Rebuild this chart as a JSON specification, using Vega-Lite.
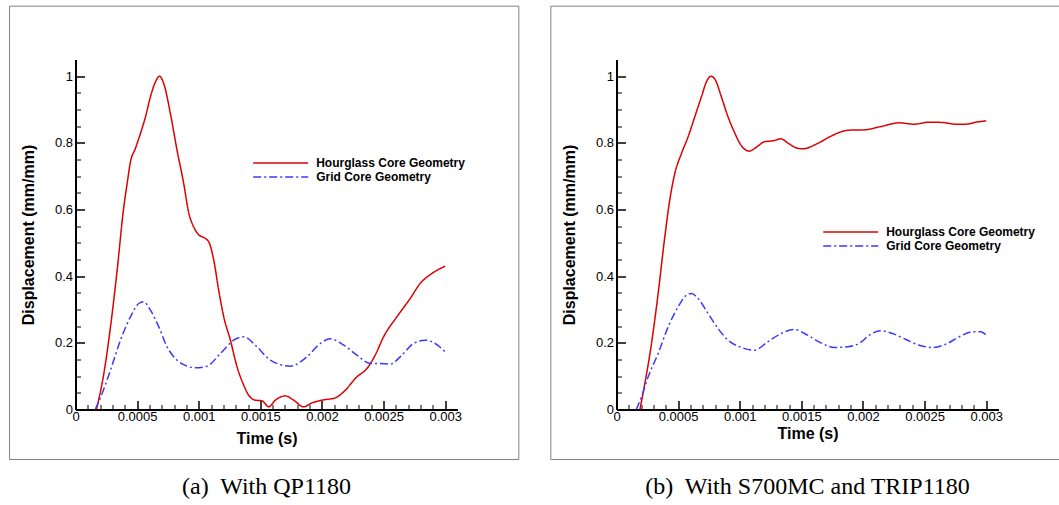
{
  "$schema": "https://vega.github.io/schema/vega-lite/v6.json",
  "padding": {"left": 8.5, "top": 5.5, "right": 0, "bottom": 0},
  "background": "white",
  "spacing": 30,
  "config": {
    "view": {"stroke": null},
    "axis": {"domainColor": "black", "domainWidth": 2, "tickColor": "black", "grid": false,
      "labelFont": "Liberation Sans", "labelFontSize": 13, "labelColor": "black",
      "labelFlush": false, "labelOverlap": false, "labelBound": false,
      "titleFont": "Liberation Sans", "titleFontSize": 16, "titleFontWeight": "bold", "titleColor": "black"},
    "legend": {"labelFont": "Liberation Sans", "labelFontSize": 12, "labelFontWeight": "bold", "labelColor": "black",
      "symbolType": "M-5,0H5", "symbolSize": 121, "symbolStrokeWidth": 1.5, "labelOffset": 29, "rowPadding": 1, "padding": 0},
    "title": {"font": "Liberation Serif", "fontSize": 24, "fontWeight": "normal", "color": "black", "orient": "bottom", "frame": "group", "anchor": "middle"}
  },
  "datasets": {
    "left": [
      {"s": "Hourglass Core Geometry", "t": 0.00017, "v": 0},
      {"s": "Hourglass Core Geometry", "t": 0.00023, "v": 0.108},
      {"s": "Hourglass Core Geometry", "t": 0.000284, "v": 0.248},
      {"s": "Hourglass Core Geometry", "t": 0.000338, "v": 0.418},
      {"s": "Hourglass Core Geometry", "t": 0.000392, "v": 0.608},
      {"s": "Hourglass Core Geometry", "t": 0.000419, "v": 0.678},
      {"s": "Hourglass Core Geometry", "t": 0.000446, "v": 0.743},
      {"s": "Hourglass Core Geometry", "t": 0.000486, "v": 0.783},
      {"s": "Hourglass Core Geometry", "t": 0.000527, "v": 0.828},
      {"s": "Hourglass Core Geometry", "t": 0.000568, "v": 0.878},
      {"s": "Hourglass Core Geometry", "t": 0.000608, "v": 0.938},
      {"s": "Hourglass Core Geometry", "t": 0.000649, "v": 0.983},
      {"s": "Hourglass Core Geometry", "t": 0.000681, "v": 1.0},
      {"s": "Hourglass Core Geometry", "t": 0.000716, "v": 0.978},
      {"s": "Hourglass Core Geometry", "t": 0.00077, "v": 0.888},
      {"s": "Hourglass Core Geometry", "t": 0.000824, "v": 0.778},
      {"s": "Hourglass Core Geometry", "t": 0.000878, "v": 0.678},
      {"s": "Hourglass Core Geometry", "t": 0.000919, "v": 0.59},
      {"s": "Hourglass Core Geometry", "t": 0.000959, "v": 0.548},
      {"s": "Hourglass Core Geometry", "t": 0.001, "v": 0.524},
      {"s": "Hourglass Core Geometry", "t": 0.00104, "v": 0.516},
      {"s": "Hourglass Core Geometry", "t": 0.001081, "v": 0.503},
      {"s": "Hourglass Core Geometry", "t": 0.001122, "v": 0.448},
      {"s": "Hourglass Core Geometry", "t": 0.001162, "v": 0.358},
      {"s": "Hourglass Core Geometry", "t": 0.001203, "v": 0.278},
      {"s": "Hourglass Core Geometry", "t": 0.001257, "v": 0.208},
      {"s": "Hourglass Core Geometry", "t": 0.001311, "v": 0.128},
      {"s": "Hourglass Core Geometry", "t": 0.001365, "v": 0.073},
      {"s": "Hourglass Core Geometry", "t": 0.001405, "v": 0.043},
      {"s": "Hourglass Core Geometry", "t": 0.00146, "v": 0.028},
      {"s": "Hourglass Core Geometry", "t": 0.001514, "v": 0.026},
      {"s": "Hourglass Core Geometry", "t": 0.001568, "v": 0.008},
      {"s": "Hourglass Core Geometry", "t": 0.001622, "v": 0.028},
      {"s": "Hourglass Core Geometry", "t": 0.001703, "v": 0.041},
      {"s": "Hourglass Core Geometry", "t": 0.00177, "v": 0.028},
      {"s": "Hourglass Core Geometry", "t": 0.001851, "v": 0.008},
      {"s": "Hourglass Core Geometry", "t": 0.001919, "v": 0.02},
      {"s": "Hourglass Core Geometry", "t": 0.002, "v": 0.028},
      {"s": "Hourglass Core Geometry", "t": 0.002108, "v": 0.035},
      {"s": "Hourglass Core Geometry", "t": 0.002176, "v": 0.053},
      {"s": "Hourglass Core Geometry", "t": 0.002284, "v": 0.098},
      {"s": "Hourglass Core Geometry", "t": 0.002365, "v": 0.123},
      {"s": "Hourglass Core Geometry", "t": 0.002432, "v": 0.163},
      {"s": "Hourglass Core Geometry", "t": 0.0025, "v": 0.218},
      {"s": "Hourglass Core Geometry", "t": 0.002608, "v": 0.278},
      {"s": "Hourglass Core Geometry", "t": 0.002716, "v": 0.333},
      {"s": "Hourglass Core Geometry", "t": 0.002797, "v": 0.378},
      {"s": "Hourglass Core Geometry", "t": 0.002892, "v": 0.408},
      {"s": "Hourglass Core Geometry", "t": 0.003, "v": 0.43},
      {"s": "Grid Core Geometry", "t": 0.00016, "v": 0},
      {"s": "Grid Core Geometry", "t": 0.000216, "v": 0.048},
      {"s": "Grid Core Geometry", "t": 0.000284, "v": 0.118},
      {"s": "Grid Core Geometry", "t": 0.000365, "v": 0.208},
      {"s": "Grid Core Geometry", "t": 0.000446, "v": 0.278},
      {"s": "Grid Core Geometry", "t": 0.000514, "v": 0.318},
      {"s": "Grid Core Geometry", "t": 0.000554, "v": 0.323},
      {"s": "Grid Core Geometry", "t": 0.000608, "v": 0.298},
      {"s": "Grid Core Geometry", "t": 0.000676, "v": 0.248},
      {"s": "Grid Core Geometry", "t": 0.000743, "v": 0.188},
      {"s": "Grid Core Geometry", "t": 0.000824, "v": 0.148},
      {"s": "Grid Core Geometry", "t": 0.000905, "v": 0.13},
      {"s": "Grid Core Geometry", "t": 0.000973, "v": 0.125},
      {"s": "Grid Core Geometry", "t": 0.001068, "v": 0.13},
      {"s": "Grid Core Geometry", "t": 0.001176, "v": 0.168},
      {"s": "Grid Core Geometry", "t": 0.001284, "v": 0.208},
      {"s": "Grid Core Geometry", "t": 0.001365, "v": 0.218},
      {"s": "Grid Core Geometry", "t": 0.001473, "v": 0.188},
      {"s": "Grid Core Geometry", "t": 0.001581, "v": 0.148},
      {"s": "Grid Core Geometry", "t": 0.001743, "v": 0.13},
      {"s": "Grid Core Geometry", "t": 0.001878, "v": 0.158},
      {"s": "Grid Core Geometry", "t": 0.001986, "v": 0.198},
      {"s": "Grid Core Geometry", "t": 0.002068, "v": 0.212},
      {"s": "Grid Core Geometry", "t": 0.002176, "v": 0.193},
      {"s": "Grid Core Geometry", "t": 0.002284, "v": 0.163},
      {"s": "Grid Core Geometry", "t": 0.002392, "v": 0.138},
      {"s": "Grid Core Geometry", "t": 0.002473, "v": 0.138},
      {"s": "Grid Core Geometry", "t": 0.002554, "v": 0.136},
      {"s": "Grid Core Geometry", "t": 0.002635, "v": 0.158},
      {"s": "Grid Core Geometry", "t": 0.002743, "v": 0.198},
      {"s": "Grid Core Geometry", "t": 0.002838, "v": 0.208},
      {"s": "Grid Core Geometry", "t": 0.002919, "v": 0.198},
      {"s": "Grid Core Geometry", "t": 0.003, "v": 0.173}
    ],
    "right": [
      {"s": "Hourglass Core Geometry", "t": 0.00019, "v": 0},
      {"s": "Hourglass Core Geometry", "t": 0.00023, "v": 0.078},
      {"s": "Hourglass Core Geometry", "t": 0.000284, "v": 0.198},
      {"s": "Hourglass Core Geometry", "t": 0.000338, "v": 0.348},
      {"s": "Hourglass Core Geometry", "t": 0.000392, "v": 0.518},
      {"s": "Hourglass Core Geometry", "t": 0.000432, "v": 0.628},
      {"s": "Hourglass Core Geometry", "t": 0.000473, "v": 0.708},
      {"s": "Hourglass Core Geometry", "t": 0.000527, "v": 0.768},
      {"s": "Hourglass Core Geometry", "t": 0.000581, "v": 0.818},
      {"s": "Hourglass Core Geometry", "t": 0.000635, "v": 0.878},
      {"s": "Hourglass Core Geometry", "t": 0.000689, "v": 0.938},
      {"s": "Hourglass Core Geometry", "t": 0.00073, "v": 0.983},
      {"s": "Hourglass Core Geometry", "t": 0.000765, "v": 1.0},
      {"s": "Hourglass Core Geometry", "t": 0.000803, "v": 0.988},
      {"s": "Hourglass Core Geometry", "t": 0.000851, "v": 0.938},
      {"s": "Hourglass Core Geometry", "t": 0.000905, "v": 0.878},
      {"s": "Hourglass Core Geometry", "t": 0.000959, "v": 0.83},
      {"s": "Hourglass Core Geometry", "t": 0.00101, "v": 0.793},
      {"s": "Hourglass Core Geometry", "t": 0.001078, "v": 0.775},
      {"s": "Hourglass Core Geometry", "t": 0.001132, "v": 0.786},
      {"s": "Hourglass Core Geometry", "t": 0.0012, "v": 0.803},
      {"s": "Hourglass Core Geometry", "t": 0.001267, "v": 0.806},
      {"s": "Hourglass Core Geometry", "t": 0.001335, "v": 0.812},
      {"s": "Hourglass Core Geometry", "t": 0.001389, "v": 0.8},
      {"s": "Hourglass Core Geometry", "t": 0.001457, "v": 0.785},
      {"s": "Hourglass Core Geometry", "t": 0.001511, "v": 0.782},
      {"s": "Hourglass Core Geometry", "t": 0.001632, "v": 0.798},
      {"s": "Hourglass Core Geometry", "t": 0.001741, "v": 0.82},
      {"s": "Hourglass Core Geometry", "t": 0.001822, "v": 0.833},
      {"s": "Hourglass Core Geometry", "t": 0.001889, "v": 0.838},
      {"s": "Hourglass Core Geometry", "t": 0.00201, "v": 0.839},
      {"s": "Hourglass Core Geometry", "t": 0.002159, "v": 0.85},
      {"s": "Hourglass Core Geometry", "t": 0.002295, "v": 0.86},
      {"s": "Hourglass Core Geometry", "t": 0.002416, "v": 0.856},
      {"s": "Hourglass Core Geometry", "t": 0.002538, "v": 0.862},
      {"s": "Hourglass Core Geometry", "t": 0.002646, "v": 0.861},
      {"s": "Hourglass Core Geometry", "t": 0.002754, "v": 0.856},
      {"s": "Hourglass Core Geometry", "t": 0.002835, "v": 0.856},
      {"s": "Hourglass Core Geometry", "t": 0.002916, "v": 0.862},
      {"s": "Hourglass Core Geometry", "t": 0.003, "v": 0.866},
      {"s": "Grid Core Geometry", "t": 0.00016, "v": 0},
      {"s": "Grid Core Geometry", "t": 0.000203, "v": 0.038},
      {"s": "Grid Core Geometry", "t": 0.000257, "v": 0.098},
      {"s": "Grid Core Geometry", "t": 0.000338, "v": 0.168},
      {"s": "Grid Core Geometry", "t": 0.000419, "v": 0.248},
      {"s": "Grid Core Geometry", "t": 0.0005, "v": 0.308},
      {"s": "Grid Core Geometry", "t": 0.000568, "v": 0.343},
      {"s": "Grid Core Geometry", "t": 0.000608, "v": 0.348},
      {"s": "Grid Core Geometry", "t": 0.000662, "v": 0.333},
      {"s": "Grid Core Geometry", "t": 0.000743, "v": 0.288},
      {"s": "Grid Core Geometry", "t": 0.000824, "v": 0.243},
      {"s": "Grid Core Geometry", "t": 0.000905, "v": 0.208},
      {"s": "Grid Core Geometry", "t": 0.001008, "v": 0.187},
      {"s": "Grid Core Geometry", "t": 0.001119, "v": 0.178},
      {"s": "Grid Core Geometry", "t": 0.001227, "v": 0.203},
      {"s": "Grid Core Geometry", "t": 0.001335, "v": 0.228},
      {"s": "Grid Core Geometry", "t": 0.001443, "v": 0.24},
      {"s": "Grid Core Geometry", "t": 0.001551, "v": 0.223},
      {"s": "Grid Core Geometry", "t": 0.001659, "v": 0.2},
      {"s": "Grid Core Geometry", "t": 0.001768, "v": 0.186},
      {"s": "Grid Core Geometry", "t": 0.001876, "v": 0.188},
      {"s": "Grid Core Geometry", "t": 0.001984, "v": 0.202},
      {"s": "Grid Core Geometry", "t": 0.002051, "v": 0.223},
      {"s": "Grid Core Geometry", "t": 0.002146, "v": 0.236},
      {"s": "Grid Core Geometry", "t": 0.00224, "v": 0.228},
      {"s": "Grid Core Geometry", "t": 0.002349, "v": 0.21},
      {"s": "Grid Core Geometry", "t": 0.002457, "v": 0.193},
      {"s": "Grid Core Geometry", "t": 0.002565, "v": 0.186},
      {"s": "Grid Core Geometry", "t": 0.002673, "v": 0.196},
      {"s": "Grid Core Geometry", "t": 0.002781, "v": 0.218},
      {"s": "Grid Core Geometry", "t": 0.002889, "v": 0.233},
      {"s": "Grid Core Geometry", "t": 0.002957, "v": 0.233},
      {"s": "Grid Core Geometry", "t": 0.003, "v": 0.223}
    ]
  },
  "resolve": {"legend": {"color": "independent", "strokeDash": "independent"}},
  "hconcat": [
    {
      "width": 382, "height": 350,
      "title": {"text": "(a)\u00a0 With QP1180", "offset": 15},
      "layer": [
        {
          "data": {"name": "left"},
          "mark": {"type": "line", "strokeWidth": 1.5, "interpolate": "monotone"},
          "encoding": {
            "x": {"field": "t", "type": "quantitative", "scale": {"domain": [0, 0.0031], "nice": false, "zero": false},
              "axis": {"title": "Time (s)", "titlePadding": 3, "labelPadding": 10,
                "values": [0,0.0001,0.0002,0.0003,0.0004,0.0005,0.0006,0.0007,0.0008,0.0009,0.001,0.0011,0.0012,0.0013,0.0014,0.0015,0.0016,0.0017,0.0018,0.0019,0.002,0.0021,0.0022,0.0023,0.0024,0.0025,0.0026,0.0027,0.0028,0.0029,0.003],
                "tickSize": {"condition": {"test": "abs(datum.value*2000-round(datum.value*2000))<0.01", "value": -9}, "value": -5},
                "tickWidth": {"condition": {"test": "abs(datum.value*2000-round(datum.value*2000))<0.01", "value": 1.5}, "value": 1},
                "labelExpr": "abs(datum.value*2000-round(datum.value*2000))<0.01 ? ''+datum.value : ''"}},
            "y": {"field": "v", "type": "quantitative", "scale": {"domain": [0, 1.05], "nice": false, "zero": false},
              "axis": {"title": "Displacement (mm/mm)", "titlePadding": 18, "labelPadding": 12,
                "values": [0,0.05,0.1,0.15,0.2,0.25,0.3,0.35,0.4,0.45,0.5,0.55,0.6,0.65,0.7,0.75,0.8,0.85,0.9,0.95,1],
                "tickSize": {"condition": {"test": "abs(datum.value*5-round(datum.value*5))<0.01", "value": -9}, "value": -5},
                "tickWidth": {"condition": {"test": "abs(datum.value*5-round(datum.value*5))<0.01", "value": 1.5}, "value": 1},
                "labelExpr": "abs(datum.value*5-round(datum.value*5))<0.01 ? ''+datum.value : ''"}},
            "color": {"field": "s", "type": "nominal",
              "scale": {"domain": ["Hourglass Core Geometry", "Grid Core Geometry"], "range": ["#dc0000", "#3a3aff"]},
              "legend": {"title": null, "orient": "none", "legendX": 198.7, "legendY": 97}},
            "strokeDash": {"field": "s", "type": "nominal",
              "scale": {"domain": ["Hourglass Core Geometry", "Grid Core Geometry"], "range": [[1, 0], [8, 3, 2, 3]]},
              "legend": {"title": null, "orient": "none", "legendX": 198.7, "legendY": 97}}
          }
        },
        {
          "data": {"values": [{}]},
          "mark": {"type": "rect", "filled": false, "stroke": "#808080", "strokeWidth": 1},
          "encoding": {
            "x": {"datum": -0.000535, "type": "quantitative", "scale": {"domain": [0, 0.0031], "nice": false, "zero": false},
              "axis": {"title": "Time (s)", "titlePadding": 3, "labelPadding": 10,
                "values": [0,0.0001,0.0002,0.0003,0.0004,0.0005,0.0006,0.0007,0.0008,0.0009,0.001,0.0011,0.0012,0.0013,0.0014,0.0015,0.0016,0.0017,0.0018,0.0019,0.002,0.0021,0.0022,0.0023,0.0024,0.0025,0.0026,0.0027,0.0028,0.0029,0.003],
                "tickSize": {"condition": {"test": "abs(datum.value*2000-round(datum.value*2000))<0.01", "value": -9}, "value": -5},
                "tickWidth": {"condition": {"test": "abs(datum.value*2000-round(datum.value*2000))<0.01", "value": 1.5}, "value": 1},
                "labelExpr": "abs(datum.value*2000-round(datum.value*2000))<0.01 ? ''+datum.value : ''"}},
            "x2": {"datum": 0.0035976},
            "y": {"datum": 1.21, "type": "quantitative", "scale": {"domain": [0, 1.05], "nice": false, "zero": false},
              "axis": {"title": "Displacement (mm/mm)", "titlePadding": 18, "labelPadding": 12,
                "values": [0,0.05,0.1,0.15,0.2,0.25,0.3,0.35,0.4,0.45,0.5,0.55,0.6,0.65,0.7,0.75,0.8,0.85,0.9,0.95,1],
                "tickSize": {"condition": {"test": "abs(datum.value*5-round(datum.value*5))<0.01", "value": -9}, "value": -5},
                "tickWidth": {"condition": {"test": "abs(datum.value*5-round(datum.value*5))<0.01", "value": 1.5}, "value": 1},
                "labelExpr": "abs(datum.value*5-round(datum.value*5))<0.01 ? ''+datum.value : ''"}},
            "y2": {"datum": -0.15}
          }
        }
      ]
    },
    {
      "width": 382, "height": 350,
      "title": {"text": "(b)\u00a0 With S700MC and TRIP1180", "offset": 15},
      "layer": [
        {
          "data": {"name": "right"},
          "mark": {"type": "line", "strokeWidth": 1.5, "interpolate": "monotone"},
          "encoding": {
            "x": {"field": "t", "type": "quantitative", "scale": {"domain": [0, 0.0031], "nice": false, "zero": false},
              "axis": {"title": "Time (s)", "titlePadding": -2, "labelPadding": 10,
                "values": [0,0.0001,0.0002,0.0003,0.0004,0.0005,0.0006,0.0007,0.0008,0.0009,0.001,0.0011,0.0012,0.0013,0.0014,0.0015,0.0016,0.0017,0.0018,0.0019,0.002,0.0021,0.0022,0.0023,0.0024,0.0025,0.0026,0.0027,0.0028,0.0029,0.003],
                "tickSize": {"condition": {"test": "abs(datum.value*2000-round(datum.value*2000))<0.01", "value": -9}, "value": -5},
                "tickWidth": {"condition": {"test": "abs(datum.value*2000-round(datum.value*2000))<0.01", "value": 1.5}, "value": 1},
                "labelExpr": "abs(datum.value*2000-round(datum.value*2000))<0.01 ? ''+datum.value : ''"}},
            "y": {"field": "v", "type": "quantitative", "scale": {"domain": [0, 1.05], "nice": false, "zero": false},
              "axis": {"title": "Displacement (mm/mm)", "titlePadding": 18, "labelPadding": 12,
                "values": [0,0.05,0.1,0.15,0.2,0.25,0.3,0.35,0.4,0.45,0.5,0.55,0.6,0.65,0.7,0.75,0.8,0.85,0.9,0.95,1],
                "tickSize": {"condition": {"test": "abs(datum.value*5-round(datum.value*5))<0.01", "value": -9}, "value": -5},
                "tickWidth": {"condition": {"test": "abs(datum.value*5-round(datum.value*5))<0.01", "value": 1.5}, "value": 1},
                "labelExpr": "abs(datum.value*5-round(datum.value*5))<0.01 ? ''+datum.value : ''"}},
            "color": {"field": "s", "type": "nominal",
              "scale": {"domain": ["Hourglass Core Geometry", "Grid Core Geometry"], "range": ["#dc0000", "#3a3aff"]},
              "legend": {"title": null, "orient": "none", "legendX": 227.7, "legendY": 166}},
            "strokeDash": {"field": "s", "type": "nominal",
              "scale": {"domain": ["Hourglass Core Geometry", "Grid Core Geometry"], "range": [[1, 0], [8, 3, 2, 3]]},
              "legend": {"title": null, "orient": "none", "legendX": 227.7, "legendY": 166}}
          }
        },
        {
          "data": {"values": [{}]},
          "mark": {"type": "rect", "filled": false, "stroke": "#808080", "strokeWidth": 1},
          "encoding": {
            "x": {"datum": -0.000533, "type": "quantitative", "scale": {"domain": [0, 0.0031], "nice": false, "zero": false},
              "axis": {"title": "Time (s)", "titlePadding": -2, "labelPadding": 10,
                "values": [0,0.0001,0.0002,0.0003,0.0004,0.0005,0.0006,0.0007,0.0008,0.0009,0.001,0.0011,0.0012,0.0013,0.0014,0.0015,0.0016,0.0017,0.0018,0.0019,0.002,0.0021,0.0022,0.0023,0.0024,0.0025,0.0026,0.0027,0.0028,0.0029,0.003],
                "tickSize": {"condition": {"test": "abs(datum.value*2000-round(datum.value*2000))<0.01", "value": -9}, "value": -5},
                "tickWidth": {"condition": {"test": "abs(datum.value*2000-round(datum.value*2000))<0.01", "value": 1.5}, "value": 1},
                "labelExpr": "abs(datum.value*2000-round(datum.value*2000))<0.01 ? ''+datum.value : ''"}},
            "x2": {"datum": 0.0037},
            "y": {"datum": 1.21, "type": "quantitative", "scale": {"domain": [0, 1.05], "nice": false, "zero": false},
              "axis": {"title": "Displacement (mm/mm)", "titlePadding": 18, "labelPadding": 12,
                "values": [0,0.05,0.1,0.15,0.2,0.25,0.3,0.35,0.4,0.45,0.5,0.55,0.6,0.65,0.7,0.75,0.8,0.85,0.9,0.95,1],
                "tickSize": {"condition": {"test": "abs(datum.value*5-round(datum.value*5))<0.01", "value": -9}, "value": -5},
                "tickWidth": {"condition": {"test": "abs(datum.value*5-round(datum.value*5))<0.01", "value": 1.5}, "value": 1},
                "labelExpr": "abs(datum.value*5-round(datum.value*5))<0.01 ? ''+datum.value : ''"}},
            "y2": {"datum": -0.15}
          }
        }
      ]
    }
  ]
}
